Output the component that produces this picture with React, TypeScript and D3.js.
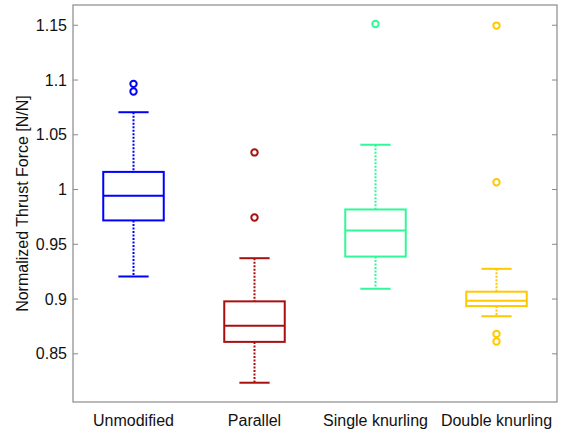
import * as React from 'react';
import * as d3 from 'd3';

const categories = ['Unmodified', 'Parallel', 'Single knurling', 'Double knurling'];
const colors = ['#0000ff', '#a81010', '#30f898', '#ffc800'];
// [lower whisker, q1, median, q3, upper whisker]
const boxStats = [
  [0.9206, 0.9718, 0.9943, 1.0161, 1.0706],
  [0.8236, 0.8609, 0.8757, 0.8979, 0.9373],
  [0.9094, 0.9388, 0.9627, 0.9818, 1.0409],
  [0.8843, 0.8936, 0.8985, 0.9067, 0.9276],
];
const outliers = [
  [1.0965, 1.0895],
  [1.0339, 0.9745],
  [1.1512],
  [1.1497, 1.0067, 0.8682, 0.8612],
];
const yTicks = [0.85, 0.9, 0.95, 1, 1.05, 1.1, 1.15];
const yLabel = 'Normalized Thrust Force [N/N]';

const W = 562;
const H = 429;
const margin = { left: 73, right: 5, top: 5, bottom: 27 };

export default function App() {
  const ref = React.useRef<SVGSVGElement>(null);

  React.useEffect(() => {
    const svg = d3.select(ref.current);
    svg.selectAll('*').remove();

    const x = d3.scaleBand().domain(categories).range([margin.left, W - margin.right]).padding(0);
    const y = d3.scaleLinear().domain([0.806, 1.1685]).range([H - margin.bottom, margin.top]);
    const bw = x.bandwidth();
    const font = 'Helvetica, Arial, "Liberation Sans", sans-serif';
    const fs = 16;

    // frame
    svg.append('rect')
      .attr('x', margin.left).attr('y', margin.top)
      .attr('width', W - margin.left - margin.right)
      .attr('height', H - margin.top - margin.bottom)
      .attr('fill', 'none').attr('stroke', '#8a8a8a').attr('stroke-width', 1.2);

    // y ticks both sides
    yTicks.forEach(t => {
      const yy = y(t);
      svg.append('line').attr('x1', margin.left).attr('x2', margin.left + 5)
        .attr('y1', yy).attr('y2', yy).attr('stroke', '#8a8a8a');
      svg.append('line').attr('x1', W - margin.right).attr('x2', W - margin.right - 5)
        .attr('y1', yy).attr('y2', yy).attr('stroke', '#8a8a8a');
      svg.append('text').attr('x', margin.left - 6).attr('y', yy)
        .attr('text-anchor', 'end').attr('dominant-baseline', 'central')
        .attr('font-family', font).attr('font-size', fs).attr('fill', '#111')
        .text(d3.format('~g')(t));
    });

    // x labels
    categories.forEach(c => {
      svg.append('text').attr('x', x(c)! + bw / 2).attr('y', H - 9)
        .attr('text-anchor', 'middle').attr('dominant-baseline', 'central')
        .attr('font-family', font).attr('font-size', fs).attr('fill', '#111')
        .text(c);
    });

    // y label
    svg.append('text')
      .attr('transform', `translate(22,${(margin.top + H - margin.bottom) / 2}) rotate(-90)`)
      .attr('text-anchor', 'middle').attr('dominant-baseline', 'central')
      .attr('font-family', font).attr('font-size', fs).attr('fill', '#111')
      .text(yLabel);

    // boxes
    categories.forEach((c, i) => {
      const [lo, q1, med, q3, hi] = boxStats[i];
      const cx = x(c)! + bw / 2;
      const col = colors[i];
      const g = svg.append('g').attr('stroke', col).attr('stroke-width', 2).attr('fill', 'none');

      g.append('line').attr('x1', cx).attr('x2', cx).attr('y1', y(hi)).attr('y2', y(q3))
        .attr('stroke-dasharray', '2,1.5');
      g.append('line').attr('x1', cx).attr('x2', cx).attr('y1', y(q1)).attr('y2', y(lo))
        .attr('stroke-dasharray', '2,1.5');
      [lo, hi].forEach(v => {
        g.append('line').attr('x1', cx - bw / 8).attr('x2', cx + bw / 8)
          .attr('y1', y(v)).attr('y2', y(v));
      });
      g.append('rect').attr('x', cx - bw / 4).attr('width', bw / 2)
        .attr('y', y(q3)).attr('height', y(q1) - y(q3));
      g.append('line').attr('x1', cx - bw / 4).attr('x2', cx + bw / 4)
        .attr('y1', y(med)).attr('y2', y(med));
      outliers[i].forEach(v => {
        g.append('circle').attr('cx', cx).attr('cy', y(v)).attr('r', 3.2);
      });
    });
  }, []);

  return (
    <svg ref={ref} width={W} height={H}
      style={{ position: 'absolute', left: 0, top: 0, background: '#fff' }} />
  );
}
